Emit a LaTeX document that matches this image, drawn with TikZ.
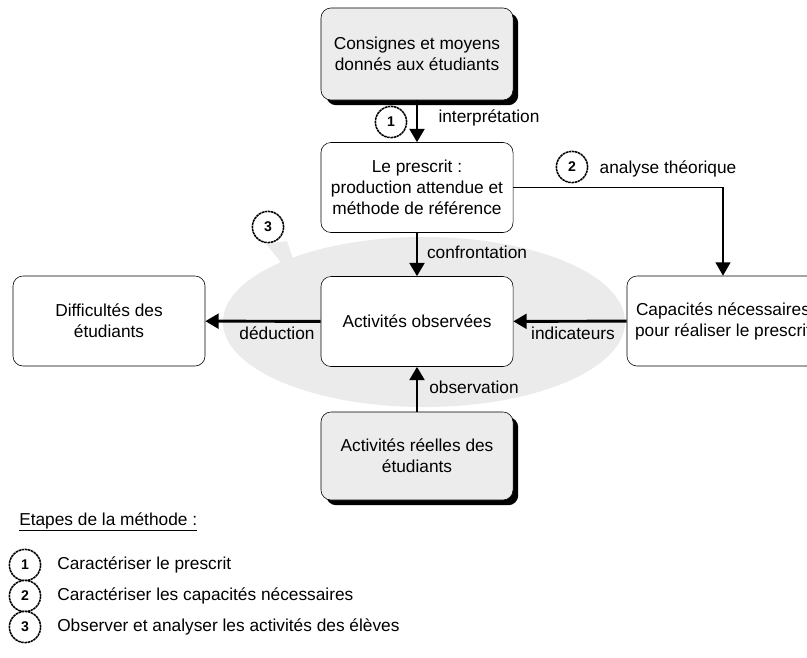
\documentclass[tikz,border=0pt]{standalone}
\usepackage{fontspec}
\setmainfont{Liberation Sans}
\usetikzlibrary{positioning,arrows.meta,shadows,shapes.geometric}
\definecolor{zonegray}{HTML}{EBEBEB}
\definecolor{boxgray}{HTML}{ECECEC}
\tikzset{
	>={Triangle[width=10.5pt,length=9.5pt]}
}

\begin{document}
\begin{tikzpicture}[
x = 0.025cm, y = -0.025cm,
every node/.style = {
	font = \fontsize{12.3}{15}\selectfont
},
box/.style = {
	draw,
	rounded corners = 0.25cm,
	minimum width = 4.8cm,
	minimum height = 2.25cm,
	align = center,
	fill = white
},
given/.style = {
	box,
	fill = boxgray,
	drop shadow = {shadow xshift=0.13cm, shadow yshift=-0.13cm, fill=black, opacity=1}
},
flow/.style = {
	->,
	line width = 2.1pt
},
thinflow/.style = {
	->,
	line width = 1.4pt
},
lbl/.style = {
	inner sep = 0pt
},
stepnum/.style = {
	circle,
	draw,
	line width = 1.1pt,
	dash pattern = on 1.8pt off 0.45pt,
	minimum size = 0.78cm,
	inner sep = 0pt,
	fill = white,
	font = \fontsize{10}{10}\selectfont\bfseries
}
]
\useasboundingbox (0,0) rectangle (807,657);

% zone d'observation
\node [ellipse, fill=zonegray, minimum width=10.05cm, minimum height=4.25cm] (zone) at (424,322) {};
\fill [zonegray] (266,244) -- (287,241) -- (294,262) -- (284,266) -- cycle;

\node [given, minimum height=2.3cm] (consignes) at (417,54) {Consignes et moyens\\donnés aux étudiants};
\node [box] (prescrit) at (417,187.5) {Le prescrit :\\production attendue et\\méthode de référence};
\node [box] (observees) at (417,321.5) {Activités observées};
\node [box] (difficultes) at (109,321) {Difficultés des\\étudiants};
\node [box] (capacites) at (723,321) {Capacités nécessaires\\pour réaliser le prescrit};
\node [given, minimum height=2.2cm] (reelles) at (417,456) {Activités réelles des\\étudiants};

\draw[flow] (consignes) -- (prescrit);
\draw[flow] (prescrit) -- (observees);
\draw[thinflow] (prescrit.east) -| (capacites.north);
\draw[flow] (observees) -- (difficultes);
\draw[flow] (capacites) -- (observees);
\draw[flow] (reelles) -- (observees);

\node [lbl] (interp) at (489,118) {interprétation};
\node [lbl] (confr) at (477,252) {confrontation};
\node [lbl] (deduc) at (277,333) {déduction};
\node [lbl] (indic) at (573,333) {indicateurs};
\node [lbl] (obs) at (474,387) {observation};
\node [lbl] (analyse) at (668,169) {analyse théorique};

\node [stepnum] (un) at (391,122) {1};
\node [stepnum] (deux) at (572,167) {2};
\node [stepnum] (trois) at (268,227) {3};

% légende
\node [lbl, anchor=west] (etapes) at (19,522) {\underline{Etapes de la méthode :}};
\node [stepnum] (leg1) at (25,565) {1};
\node [stepnum] (leg2) at (25,596) {2};
\node [stepnum] (leg3) at (25,627) {3};
\node [lbl, anchor=west] (txt1) at (57,565) {Caractériser le prescrit};
\node [lbl, anchor=west] (txt2) at (57,596) {Caractériser les capacités nécessaires};
\node [lbl, anchor=west] (txt3) at (57,627) {Observer et analyser les activités des élèves};

\end{tikzpicture}
\end{document}
